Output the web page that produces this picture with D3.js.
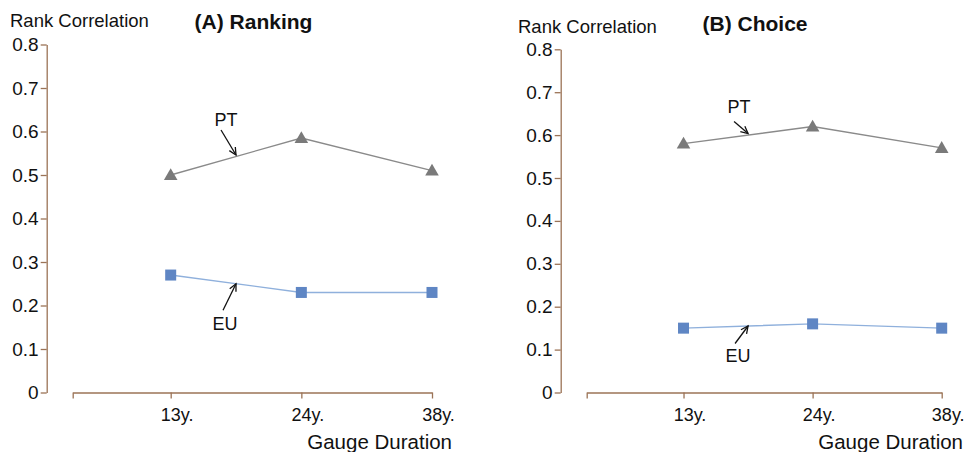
<!DOCTYPE html>
<html><head><meta charset="utf-8">
<script src="https://cdn.jsdelivr.net/npm/d3@7"></script>
<style>
body{margin:0;background:#fff;}
svg text{font-family:"Liberation Sans",Arial,sans-serif;fill:#111;}
</style></head>
<body><svg id="c" width="966" height="452"></svg>
<script>
const categories = ["13y.", "24y.", "38y."];
const yTicks = [0, 0.1, 0.2, 0.3, 0.4, 0.5, 0.6, 0.7, 0.8];
const panelTitles = ["(A) Ranking", "(B) Choice"];
const yLabel = "Rank Correlation";
const xLabel = "Gauge Duration";
const seriesNames = ["PT", "EU"];
const rankingPT = [0.50, 0.585, 0.51];
const rankingEU = [0.27, 0.23, 0.23];
const choicePT = [0.58, 0.62, 0.57];
const choiceEU = [0.15, 0.16, 0.15];

const svg = d3.select("#c");
const AXIS = "#9b7356";
const panels = [
  {title: panelTitles[0], pt: rankingPT, eu: rankingEU, yAxisX: 46.7, xr: [72.7, 432], yr: [392.5, 44.5],
   ylab: [10, 27], tcx: 253.5, tby: 29, xlabR: 452,
   ann: [{dx: -15, dy: -25, tdx: -10, ty: -29}, {dx: -13, dy: 26.5, tdx: -11, ty: 46.5}]},
  {title: panelTitles[1], pt: choicePT, eu: choiceEU, yAxisX: 560.7, xr: [586.7, 941.7], yr: [392.5, 49.3],
   ylab: [518, 33], tcx: 755, tby: 31, xlabR: 963,
   ann: [{dx: -14, dy: -12, tdx: -9, ty: -21}, {dx: -13, dy: 17.5, tdx: -10, ty: 36}]}
];

panels.forEach(p => {
  const g = svg.append("g");
  const x = d3.scaleLinear().domain([-0.75, 2]).range(p.xr);
  const y = d3.scaleLinear().domain([0, 0.8]).range(p.yr);

  const ya = g.append("g").attr("transform", `translate(${p.yAxisX},0)`)
    .call(d3.axisLeft(y).tickValues(yTicks).tickSize(6).tickSizeOuter(0).tickPadding(2)
      .tickFormat(d => d === 0 ? "0" : d3.format(".1f")(d)));
  ya.selectAll("path,line").attr("stroke", AXIS).attr("stroke-width", 1.3);
  ya.selectAll("text").style("font-size", "19px").attr("fill", "#111");

  const xa = g.append("g").attr("transform", `translate(0,${p.yr[0]})`)
    .call(d3.axisBottom(x).tickValues([-0.75, 0, 1, 2]).tickSize(6).tickSizeOuter(0).tickPadding(10)
      .tickFormat(d => d < 0 ? "" : categories[d]));
  xa.selectAll("path,line").attr("stroke", AXIS).attr("stroke-width", 1.3);
  xa.selectAll("text").style("font-size", "18px").attr("fill", "#111").attr("dx", 6);

  g.append("text").attr("x", p.ylab[0]).attr("y", p.ylab[1]).style("font-size", "18.5px").text(yLabel);
  g.append("text").attr("x", p.tcx).attr("y", p.tby).attr("text-anchor", "middle")
    .style("font-size", "21px").style("font-weight", "bold").text(p.title);
  g.append("text").attr("x", p.xlabR).attr("y", 449).attr("text-anchor", "end")
    .style("font-size", "20.5px").text(xLabel);

  const idx = categories.map((c, i) => i);
  const line = vals => d3.line().x(i => x(i)).y(i => y(vals[i]));

  g.append("path").attr("d", line(p.pt)(idx)).attr("fill", "none").attr("stroke", "#8a8a8a").attr("stroke-width", 1.3);
  g.selectAll(".tri").data(idx).join("path")
    .attr("d", d3.symbol(d3.symbolTriangle, 80)())
    .attr("transform", i => `translate(${x(i)},${y(p.pt[i]) + 1})`)
    .attr("fill", "#7a7a7a");

  g.append("path").attr("d", line(p.eu)(idx)).attr("fill", "none").attr("stroke", "#8fb0dc").attr("stroke-width", 1.4);
  g.selectAll(".sq").data(idx).join("rect")
    .attr("x", i => x(i) - 5.5).attr("y", i => y(p.eu[i]) - 5.5)
    .attr("width", 11).attr("height", 11).attr("fill", "#5f86c4");

  [p.pt, p.eu].forEach((vals, k) => {
    const a = p.ann[k];
    const tx = (x(0) + x(1)) / 2;
    const tyv = (y(vals[0]) + y(vals[1])) / 2 + (a.dy < 0 ? -1.5 : 0);
    const sx = tx + a.dx, sy = tyv + a.dy;
    g.append("line").attr("x1", sx).attr("y1", sy).attr("x2", tx).attr("y2", tyv)
      .attr("stroke", "#111").attr("stroke-width", 1.3);
    const ang = Math.atan2(tyv - sy, tx - sx);
    const L = 8, spread = 0.45;
    const h = [ang + Math.PI - spread, ang + Math.PI + spread]
      .map(t => [tx + L * Math.cos(t), tyv + L * Math.sin(t)]);
    g.append("path").attr("d", `M${h[0][0]},${h[0][1]}L${tx},${tyv}L${h[1][0]},${h[1][1]}`)
      .attr("fill", "none").attr("stroke", "#111").attr("stroke-width", 1.3);
    g.append("text").attr("x", tx + a.tdx).attr("y", tyv + a.ty)
      .attr("text-anchor", "middle").style("font-size", "18px").text(seriesNames[k]);
  });
});
</script></body></html>
